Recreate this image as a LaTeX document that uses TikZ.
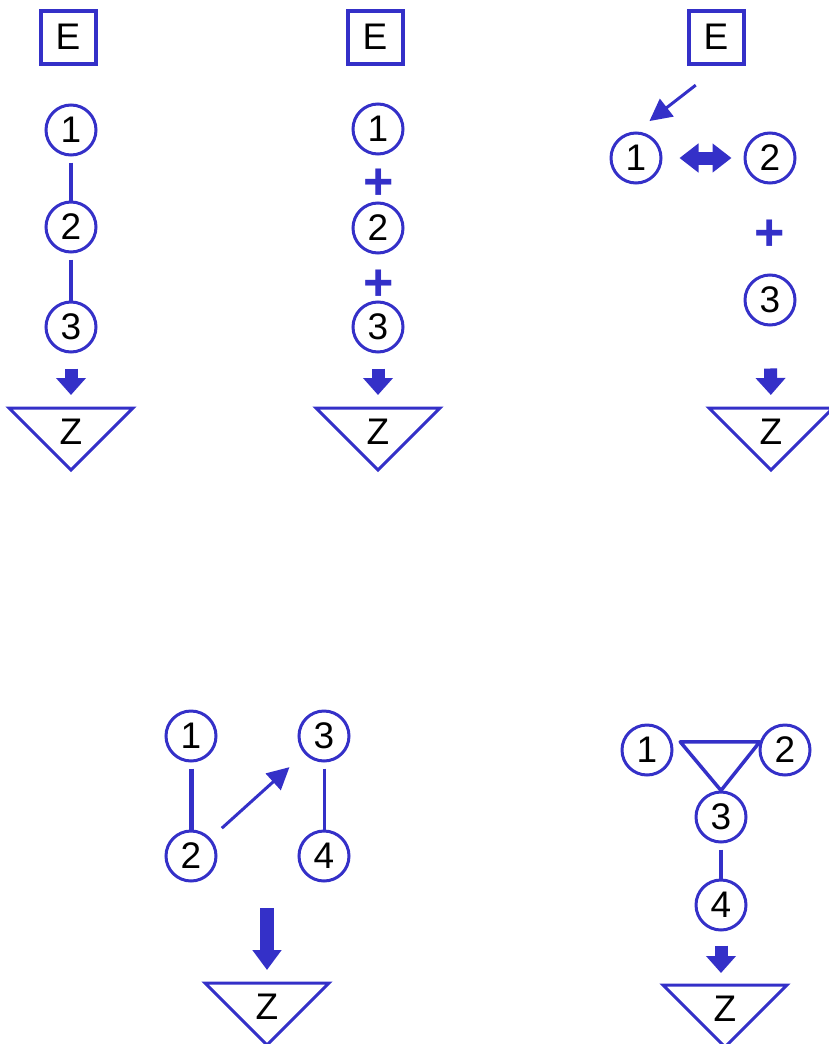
\documentclass[tikz,border=0pt]{standalone}
\usepackage{fontspec}
\setmainfont{Liberation Sans}
\usepackage{xcolor}
\usepackage{tikz}
\usetikzlibrary{arrows.meta,calc}
\definecolor{netblue}{RGB}{52,48,200}

\begin{document}
\begin{tikzpicture}[x=1pt, y=-1pt,
  unit/.style={circle, draw=netblue, line width=3pt, minimum size=50pt, inner sep=0pt, font=\fontsize{37}{39}\selectfont},
  ebox/.style={rectangle, draw=netblue, line width=4pt, minimum width=55pt, minimum height=53pt, inner sep=0pt, font=\fontsize{37}{39}\selectfont},
  zlabel/.style={minimum height=48pt, inner sep=0pt, anchor=north, font=\fontsize{37}{39}\selectfont},
  sink/.style={draw=netblue, line width=3pt, line join=miter},
  edge/.style={draw=netblue, line width=3.5pt, shorten <=6pt},
  ring/.style={draw=netblue, line width=3.5pt, line join=round},
  plus/.style={text=netblue, inner sep=0pt, font=\fontsize{52}{54}\bfseries},
  push/.style={draw=netblue, line width=13pt, -{Triangle[length=17pt,width=29pt]}},
  bigpush/.style={draw=netblue, line width=14pt, -{Triangle[length=20pt,width=28pt]}},
  twin/.style={draw=netblue, line width=13pt, {Triangle[length=19pt,width=28pt]}-{Triangle[length=19pt,width=28pt]}},
  pointer/.style={draw=netblue, line width=3pt, -{Triangle[length=22pt,width=22pt]}}
]
  \useasboundingbox (0,0) rectangle (829,1044);

  % sinks
  \foreach \n/\x/\y in {za/71/408,zb/378/408,zc/771/408,zd/267/983,zf/725/985} {
    \node[zlabel] (\n) at (\x,\y) {Z};
    \draw[sink] ([xshift=-62pt]\n.north) -- ([xshift=62pt]\n.north)
      -- ([yshift=-62pt]\n.north) -- cycle;
  }

  % chain
  \node[ebox] (a0) at (68,37) {E};
  \foreach \i/\y in {1/130,2/227,3/327}
    \node[unit] (a\i) at (71,\y) {\i};
  \draw[edge] (a1) -- (a2);
  \draw[edge] (a2) -- (a3);
  \draw[push, shorten <=15pt, shorten >=13pt] (a3.south) -- (za.north);

  % sum
  \node[ebox] (b0) at (375,37) {E};
  \foreach \i/\y in {1/129,2/228,3/327}
    \node[unit] (b\i) at (378,\y) {\i};
  \node[plus] (p1) at (379,184) {+};
  \node[plus] (p2) at (379,285) {+};
  \draw[push, shorten <=15pt, shorten >=13pt] (b3.south) -- (zb.north);

  % swap
  \node[ebox] (c0) at (716,37) {E};
  \node[unit] (c1) at (636,158) {1};
  \node[unit] (c2) at (770,158) {2};
  \node[unit] (c3) at (770,300) {3};
  \node[plus] (p3) at (770,235) {+};
  \draw[pointer, shorten <=32pt, shorten >=17pt] (c0.280) -- (c1.north);
  \draw[twin, shorten <=17pt, shorten >=12pt] (c1) -- (c2);
  \draw[push, shorten <=42pt, shorten >=13pt] (c3.south) -- (zc.north);

  % two pairs
  \node[unit] (d1) at (191,736) {1};
  \node[unit] (d2) at (191,856) {2};
  \node[unit] (d3) at (324,736) {3};
  \node[unit] (d4) at (324,856) {4};
  \draw[edge, line width=5pt] (d1) -- (d2);
  \draw[edge, line width=3pt] (d3) -- (d4);
  \draw[pointer, shorten <=15pt, shorten >=20pt] (d2) -- (d3);
  \coordinate (dtop) at (267,908);
  \draw[bigpush, shorten >=13pt] (dtop) -- (zd.north);

  % loop
  \node[unit] (f1) at (647,750) {1};
  \node[unit] (f2) at (785,750) {2};
  \node[unit] (f3) at (721,817) {3};
  \node[unit] (f4) at (721,905) {4};
  \draw[ring] ([xshift=8pt]f1.18) -- (f2.162) -- (f3.north) -- cycle;
  \draw[edge] (f3) -- (f4);
  \draw[push, shorten <=14pt, shorten >=12pt] (f4.south) -- (f4.south |- zf.north);
\end{tikzpicture}
\end{document}
